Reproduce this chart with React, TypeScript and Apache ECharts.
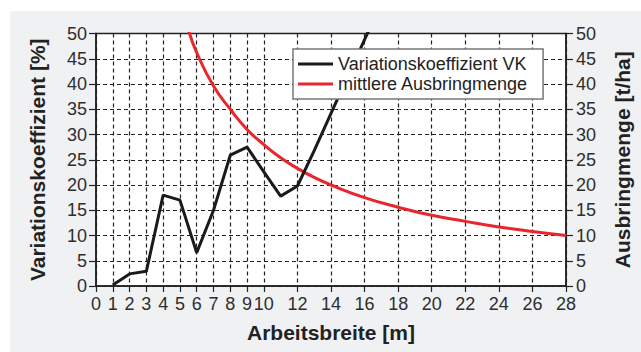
import React, { useEffect, useRef } from "react";
import * as echarts from "echarts";

const xTicks = [0, 1, 2, 3, 4, 5, 6, 7, 8, 9, 10, 12, 14, 16, 18, 20, 22, 24, 26, 28];
const yTicksMin = 0;
const yTicksMax = 50;
const yTickStep = 5;

const vkX = [1, 2, 3, 4, 5, 6, 7, 8, 9, 10, 11, 12, 13, 14, 15, 16, 17];
const vkY = [0.2, 2.4, 2.9, 18.0, 17.0, 6.6, 15.0, 25.9, 27.5, 22.6, 17.8, 19.8, 26.8, 34.2, 41.5, 48.8, 56.0];

const mengeX = [5.5, 6, 7, 8, 9, 10, 11, 12, 13, 14, 16, 18, 20, 22, 24, 26, 28];
const mengeY = [50.8, 46.2, 39.6, 35.0, 31.0, 28.0, 25.4, 23.3, 21.5, 20.0, 17.5, 15.6, 14.0, 12.8, 11.7, 10.8, 10.0];

const seriesNames = ["Variationskoeffizient VK", "mittlere Ausbringmenge"];
const xName = "Arbeitsbreite [m]";
const yLeftName = "Variationskoeffizient [%]";
const yRightName = "Ausbringmenge [t/ha]";

const FONT = "'Liberation Sans', Arial, Helvetica, sans-serif";

export default function App() {
  const ref = useRef<HTMLDivElement>(null);
  useEffect(() => {
    if (!ref.current) return;
    const chart = echarts.init(ref.current, undefined, { renderer: "svg" });
    const gridLine = { show: true, lineStyle: { color: "#222", width: 1.2, type: [4, 3] as any } };
    const labelStyle = { color: "#2e2e2e", fontSize: 18, fontFamily: FONT };
    const nameStyle = { color: "#222", fontSize: 21, fontWeight: "bold" as const, fontFamily: FONT };
    chart.setOption({
      animation: false,
      backgroundColor: "transparent",
      textStyle: { fontFamily: FONT },
      grid: {
        left: 96,
        right: 71,
        top: 33.5,
        bottom: 66,
        show: true,
        backgroundColor: "#fff",
        borderColor: "#222",
        borderWidth: 1.5,
        containLabel: false,
      },
      legend: {
        show: true,
        orient: "vertical",
        left: 293,
        top: 49,
        padding: [5, 15, 5, 5],
        itemGap: 0,
        itemWidth: 35,
        itemHeight: 3,
        icon: "rect",
        backgroundColor: "#fff",
        borderColor: "#777",
        borderWidth: 1.5,
        borderRadius: 0,
        textStyle: { color: "#222", fontSize: 18, fontFamily: FONT, lineHeight: 20 },
        data: seriesNames,
      },
      xAxis: {
        type: "value",
        min: 0,
        max: 28,
        interval: 1,
        name: xName,
        nameLocation: "middle",
        nameGap: 36,
        nameTextStyle: nameStyle,
        axisLine: { show: true, onZero: false, lineStyle: { color: "#222", width: 1.5 } },
        axisTick: { show: true, inside: false, length: 6, customValues: xTicks, lineStyle: { color: "#222", width: 1.2 } },
        axisLabel: { ...labelStyle, margin: 9, customValues: xTicks },
        splitLine: gridLine,
      },
      yAxis: [
        {
          type: "value",
          min: yTicksMin,
          max: yTicksMax,
          interval: yTickStep,
          position: "left",
          name: yLeftName,
          nameLocation: "middle",
          nameRotate: 90,
          nameGap: 48,
          nameTextStyle: nameStyle,
          axisLine: { show: true, lineStyle: { color: "#222", width: 1.5 } },
          axisTick: { show: true, inside: false, length: 7, lineStyle: { color: "#222", width: 1.2 } },
          axisLabel: { ...labelStyle, margin: 9 },
          splitLine: gridLine,
        },
        {
          type: "value",
          min: yTicksMin,
          max: yTicksMax,
          interval: yTickStep,
          position: "right",
          name: yRightName,
          nameLocation: "middle",
          nameRotate: 90,
          nameGap: 46,
          nameTextStyle: nameStyle,
          axisLine: { show: true, lineStyle: { color: "#222", width: 1.5 } },
          axisTick: { show: true, inside: false, length: 7, lineStyle: { color: "#222", width: 1.2 } },
          axisLabel: { ...labelStyle, margin: 10 },
          splitLine: { show: false },
        },
      ],
      series: [
        {
          name: seriesNames[0],
          type: "line",
          yAxisIndex: 0,
          data: vkX.map((x, i) => [x, vkY[i]]),
          symbol: "none",
          clip: true,
          color: "#1a1a1a",
          lineStyle: { color: "#1a1a1a", width: 3 },
          z: 3,
        },
        {
          name: seriesNames[1],
          type: "line",
          yAxisIndex: 1,
          data: mengeX.map((x, i) => [x, mengeY[i]]),
          symbol: "none",
          smooth: true,
          clip: true,
          color: "#e8262b",
          lineStyle: { color: "#e8262b", width: 3 },
          z: 2,
        },
      ],
    });
    return () => chart.dispose();
  }, []);
  return (
    <div style={{ position: "absolute", left: 0, top: 0, width: 641, height: 352, background: "#fff" }}>
      <div style={{ position: "absolute", left: 10, top: 11, width: 631, height: 341, background: "#f0f1f3" }} />
      <div ref={ref} style={{ position: "absolute", left: 0, top: 0, width: 641, height: 352 }} />
    </div>
  );
}
